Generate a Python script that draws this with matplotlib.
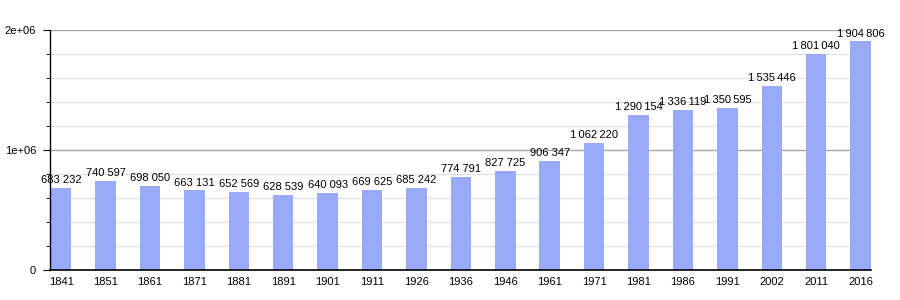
import matplotlib.pyplot as plt
from matplotlib.ticker import MultipleLocator

# Population by census year
years = ["1841", "1851", "1861", "1871", "1881", "1891", "1901", "1911", "1926", "1936",
         "1946", "1961", "1971", "1981", "1986", "1991", "2002", "2011", "2016"]
population = [683232, 740597, 698050, 663131, 652569, 628539, 640093, 669625, 685242, 774791,
              827725, 906347, 1062220, 1290154, 1336119, 1350595, 1535446, 1801040, 1904806]
ytick_labels = ["0", "1e+06", "2e+06"]

plt.rcParams['font.family'] = ['Liberation Sans', 'DejaVu Sans']

fig = plt.figure(figsize=(9, 3), dpi=100)
ax = fig.add_axes([0.0556, 0.1, 0.912, 0.8])

x = range(len(years))
bar_w = 0.46
ax.bar(x, population, width=bar_w, color='#99aaf8', zorder=3)

x_left = -0.25
x_right = len(years) - 1 + bar_w / 2
ax.set_xlim(x_left, x_right)
ax.set_ylim(0, 2e6)

# grid lines stop at the left edge of the last bar
grid_end = len(years) - 1 - bar_w / 2
for v in range(200000, 2000001, 200000):
    major = v % 1000000 == 0
    ax.hlines(v, x_left, grid_end, color='#a8a8a8' if major else '#e2e2e2',
              linewidth=1.0, zorder=1)

for i, v in enumerate(population):
    s = f"{v:,}"
    s = s.replace(",", "\u2009" if v >= 1000000 else " ")
    ax.annotate(s, (i, v), xytext=(0, 2), textcoords='offset points',
                ha='center', va='bottom', fontsize=8, color='black',
                annotation_clip=False, zorder=4)

ax.set_xticks(list(x))
ax.set_xticklabels(years, fontsize=8)
ax.tick_params(axis='x', length=0, pad=5)

ax.set_yticks([0, 1e6, 2e6])
ax.set_yticklabels(ytick_labels, fontsize=8)
ax.yaxis.set_minor_locator(MultipleLocator(200000))
ax.tick_params(axis='y', which='major', length=5, width=0.8, pad=5)
ax.tick_params(axis='y', which='minor', length=3, width=0.6)

for side in ['top', 'right']:
    ax.spines[side].set_visible(False)
ax.spines['left'].set_linewidth(1.0)
ax.spines['bottom'].set_linewidth(1.2)
ax.spines['left'].set_zorder(5)
ax.spines['bottom'].set_zorder(5)

fig.savefig('out.png', dpi=100)
